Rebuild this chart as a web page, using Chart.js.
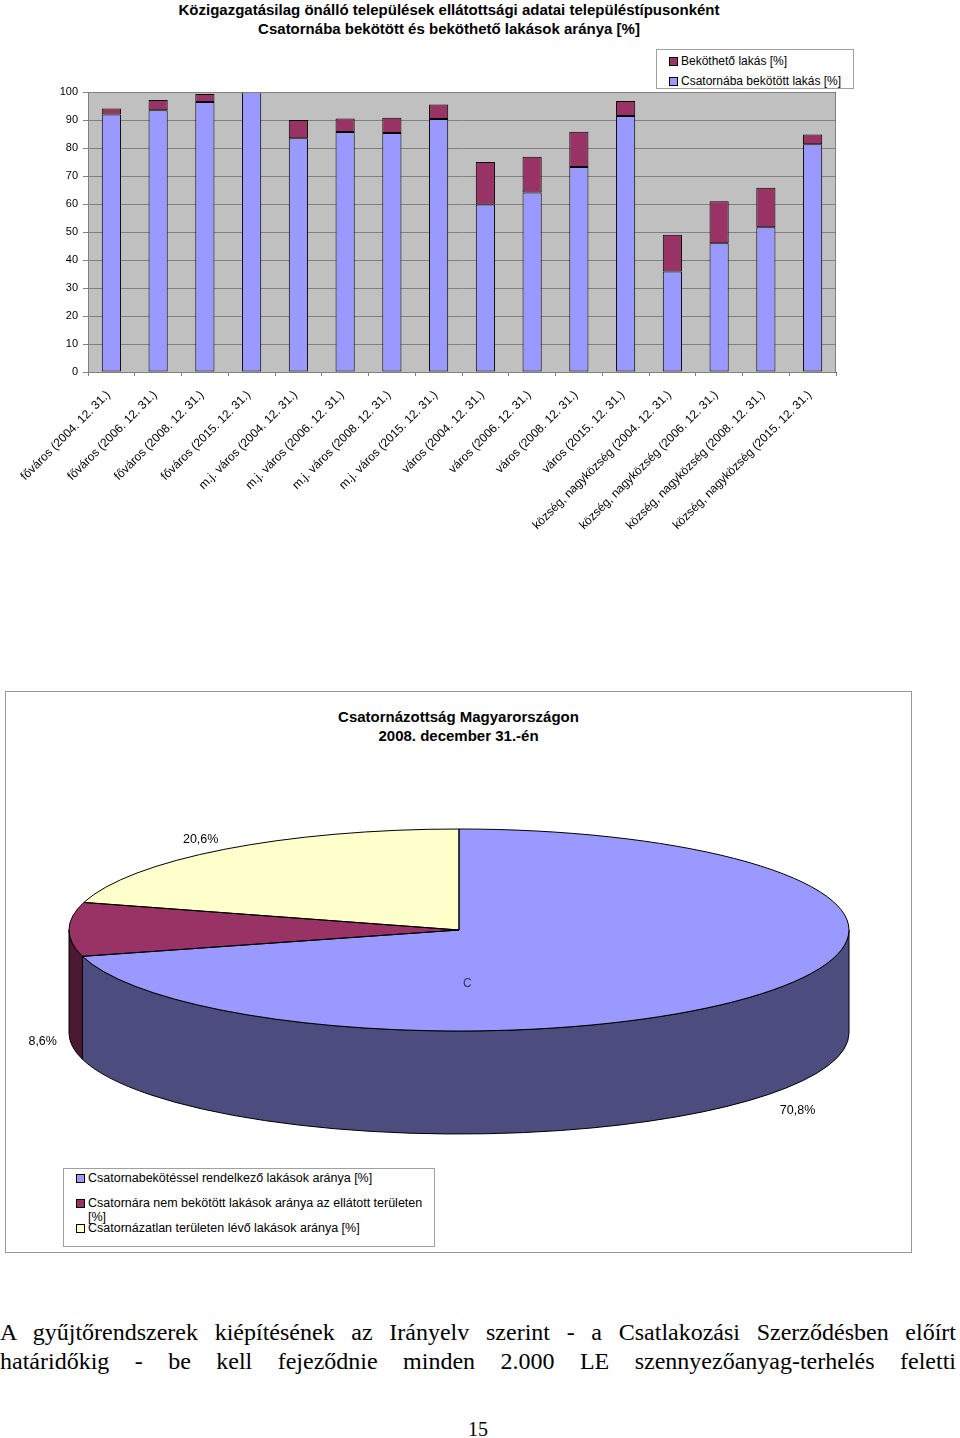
<!DOCTYPE html>
<html lang="hu">
<head>
<meta charset="utf-8">
<title>Csatornázottság</title>
<script src="https://cdn.jsdelivr.net/npm/chart.js@4.4.0/dist/chart.umd.min.js"></script>
<style>
    body { margin: 0; width: 960px; height: 1438px; position: relative; overflow: hidden; background: #fff;
           font-family: "Liberation Sans", Arial, sans-serif; color: #000; }
    .abs { position: absolute; }
    .title { left: 0; width: 898px; text-align: center; font-weight: bold; font-size: 15px; line-height: 19px; }
    .legend { border: 1px solid #a0a0a0; background: #fff; font-size: 12px; }
    .legend .item { position: absolute; left: 12px; line-height: 14px; }
    .legend .sw { position: absolute; left: 0; top: 3px; width: 7px; height: 7px; border: 1px solid #000; }
    .legend .txt { position: absolute; left: 12px; top: 0; white-space: nowrap; }
    #pieLegend { font-size: 12.5px; }
    #pieBox { left: 5px; top: 691px; width: 905px; height: 560px; border: 1px solid #999; }
    .para { left: 0; width: 956px; font-family: "Liberation Serif", "Times New Roman", serif; font-size: 24px;
            line-height: 29px; text-align: justify; text-align-last: justify; }
</style>
</head>
<body>

<div class="abs title" style="top:0">Közigazgatásilag önálló települések ellátottsági adatai településtípusonként<br>Csatornába bekötött és beköthető lakások aránya [%]</div>
<canvas id="barChart" class="abs" style="left:0;top:0" width="960" height="560"></canvas>
<div id="barLegend" class="abs legend" style="left:656px;top:49px;width:196px;height:38px"></div>

<div id="pieBox" class="abs"></div>
<div class="abs title" style="top:707px;left:5px;width:907px">Csatornázottság Magyarországon<br>2008. december 31.-én</div>
<canvas id="pieChart" class="abs" style="left:5px;top:691px" width="907" height="562"></canvas>
<div class="abs" style="left:463px;top:976px;font-size:12px;color:#333366">C</div>
<div id="pieLegend" class="abs legend" style="left:63px;top:1168px;width:370px;height:77px"></div>

<div class="abs para" style="top:1318px">A gyűjtőrendszerek kiépítésének az Irányelv szerint - a Csatlakozási Szerződésben előírt</div>
<div class="abs para" style="top:1347px">határidőkig - be kell fejeződnie minden 2.000 LE szennyezőanyag-terhelés feletti</div>
<div class="abs" style="left:0;width:956px;top:1418px;text-align:center;font-family:'Liberation Serif',serif;font-size:20px">15</div>

<script>
const categories = [
    'főváros (2004. 12. 31.)', 'főváros (2006. 12. 31.)', 'főváros (2008. 12. 31.)', 'főváros (2015. 12. 31.)',
    'm.j. város (2004. 12. 31.)', 'm.j. város (2006. 12. 31.)', 'm.j. város (2008. 12. 31.)', 'm.j. város (2015. 12. 31.)',
    'város (2004. 12. 31.)', 'város (2006. 12. 31.)', 'város (2008. 12. 31.)', 'város (2015. 12. 31.)',
    'község, nagyközség (2004. 12. 31.)', 'község, nagyközség (2006. 12. 31.)',
    'község, nagyközség (2008. 12. 31.)', 'község, nagyközség (2015. 12. 31.)'
];
const connected = [92.0, 93.5, 96.4, 100, 83.5, 85.7, 85.4, 90.4, 59.8, 64.1, 73.2, 91.4, 35.9, 46.0, 51.7, 81.3];
const connectable = [2.1, 3.6, 2.9, 0, 6.5, 4.8, 5.4, 5.1, 15.2, 12.8, 12.6, 5.4, 13.1, 15.0, 14.1, 3.5];
const yTicks = [0, 10, 20, 30, 40, 50, 60, 70, 80, 90, 100];

const pieLabels = [
    'Csatornabekötéssel rendelkező lakások aránya [%]',
    'Csatornára nem bekötött lakások aránya az ellátott területen [%]',
    'Csatornázatlan területen lévő lakások aránya [%]'
];
const pieValues = [70.8, 8.6, 20.6];

const BLUE = '#9999ff', PLUM = '#993366', CREAM = '#ffffcc';

Chart.defaults.font.family = '"Liberation Sans", Arial, sans-serif';
Chart.defaults.color = '#000';

// html legend box
function fillLegend(el, items, top0, step, textWidth) {
    el.innerHTML = items.map((it, i) => `
        <div class="item" style="top:${top0 + i * step}px">
            <span class="sw" style="background:${it.color}"></span>
            <span class="txt" style="${textWidth ? 'white-space:normal;width:' + textWidth + 'px' : ''}">${it.label}</span>
        </div>`).join('');
}

// halve the rgb of a hex colour for the pie walls
function darken(hex) {
    const n = parseInt(hex.slice(1), 16);
    const r = (n >> 16) >> 1, g = ((n >> 8) & 255) >> 1, b = (n & 255) >> 1;
    return `rgb(${r},${g},${b})`;
}

const plotBg = {
    id: 'plotBg',
    beforeDraw(chart) {
        const { ctx, chartArea: a } = chart;
        ctx.save();
        ctx.fillStyle = '#c0c0c0';
        ctx.fillRect(a.left, a.top, a.width, a.height);
        ctx.restore();
    },
    afterDraw(chart) {
        const { ctx, chartArea: a } = chart;
        ctx.save();
        ctx.strokeStyle = '#808080';
        ctx.lineWidth = 1;
        ctx.strokeRect(a.left + 0.5, a.top + 0.5, a.width - 1, a.height);
        ctx.restore();
    }
};

// flat pie squashed into an ellipse, with a front wall
const pie3d = {
    id: 'pie3d',
    beforeDatasetsDraw(chart, args, o) {
        const ctx = chart.ctx;
        const arcs = chart.getDatasetMeta(0).data;
        arcs.forEach(arc => {
            [[0, Math.PI], [2 * Math.PI, 3 * Math.PI]].forEach(([lo, hi]) => {
                const a = Math.max(arc.startAngle, lo), b = Math.min(arc.endAngle, hi);
                if (b <= a) return;
                ctx.beginPath();
                ctx.ellipse(o.cx, o.cy, o.rx, o.ry, 0, a, b);
                ctx.ellipse(o.cx, o.cy + o.depth, o.rx, o.ry, 0, b, a, true);
                ctx.closePath();
                ctx.fillStyle = darken(arc.options.backgroundColor);
                ctx.fill();
                ctx.strokeStyle = '#000';
                ctx.lineWidth = 1;
                ctx.stroke();
            });
        });
        const { x, y, outerRadius } = arcs[0];
        ctx.save();
        ctx.translate(o.cx, o.cy);
        ctx.scale(o.rx / outerRadius, o.ry / outerRadius);
        ctx.translate(-x, -y);
    },
    afterDatasetsDraw(chart, args, o) {
        const ctx = chart.ctx;
        ctx.restore();
        const arcs = chart.getDatasetMeta(0).data;
        const values = chart.data.datasets[0].data;
        ctx.save();
        ctx.strokeStyle = '#000';
        ctx.lineWidth = 1;
        arcs.forEach(arc => {
            ctx.beginPath();
            ctx.moveTo(o.cx, o.cy);
            ctx.ellipse(o.cx, o.cy, o.rx, o.ry, 0, arc.startAngle, arc.endAngle);
            ctx.closePath();
            ctx.stroke();
        });
        // percentage labels
        ctx.font = '12.5px "Liberation Sans", Arial, sans-serif';
        ctx.fillStyle = '#000';
        ctx.textAlign = 'center';
        ctx.textBaseline = 'middle';
        arcs.forEach((arc, i) => {
            const mid = (arc.startAngle + arc.endAngle) / 2;
            const txt = values[i].toFixed(1).replace('.', ',') + '%';
            const w = ctx.measureText(txt).width;
            const c = Math.cos(mid), s = Math.sin(mid);
            const px = o.cx + (o.rx + 12 + 11 * Math.abs(s)) * c + c * w / 2;
            let py = o.cy + (o.ry + 12) * s;
            if (s > -0.1) py += o.depth + 9;
            ctx.fillText(txt, px, py);
        });
        ctx.restore();
    }
};

document.addEventListener('DOMContentLoaded', function() {
    fillLegend(document.getElementById('barLegend'), [
        { label: 'Beköthető lakás [%]', color: PLUM },
        { label: 'Csatornába bekötött lakás [%]', color: BLUE }
    ], 4, 20);

    fillLegend(document.getElementById('pieLegend'), pieLabels.map((l, i) => ({
        label: l, color: [BLUE, PLUM, CREAM][i]
    })), 2, 25, 338);

    new Chart(document.getElementById('barChart').getContext('2d'), {
        type : 'bar',
        data : {
            labels : categories,
            datasets : [ {
                label : 'Csatornába bekötött lakás [%]',
                data : connected,
                backgroundColor : BLUE
            }, {
                label : 'Beköthető lakás [%]',
                data : connectable,
                backgroundColor : PLUM
            } ]
        },
        options : {
            responsive : false,
            animation : false,
            events : [],
            layout : { padding : { top : 92, right : 124, left : 0, bottom : 0 } },
            datasets : {
                bar : {
                    borderColor : '#000',
                    borderWidth : 1,
                    borderSkipped : false,
                    categoryPercentage : 1,
                    barPercentage : 0.41
                }
            },
            plugins : {
                legend : { display : false },
                tooltip : { enabled : false }
            },
            scales : {
                x : {
                    stacked : true,
                    offset : true,
                    afterFit : axis => { axis.height = 188; },
                    grid : { offset : true, drawOnChartArea : false, color : '#808080', tickLength : 4 },
                    border : { color : '#404040' },
                    ticks : {
                        autoSkip : false,
                        minRotation : 45,
                        maxRotation : 45,
                        padding : 12,
                        labelOffset : -3,
                        font : { size : 12 }
                    }
                },
                y : {
                    stacked : true,
                    min : 0,
                    max : 100,
                    afterBuildTicks : axis => { axis.ticks = yTicks.map(v => ({ value : v })); },
                    afterFit : axis => { axis.width = 88; },
                    grid : { color : '#808080', tickLength : 5 },
                    border : { color : '#808080' },
                    ticks : { padding : 5, font : { size : 11 } }
                }
            }
        },
        plugins : [ plotBg ]
    });

    new Chart(document.getElementById('pieChart').getContext('2d'), {
        type : 'pie',
        data : {
            labels : pieLabels,
            datasets : [ {
                data : pieValues,
                backgroundColor : [ BLUE, PLUM, CREAM ],
                borderWidth : 0,
                hoverOffset : 0
            } ]
        },
        options : {
            responsive : false,
            animation : false,
            events : [],
            plugins : {
                legend : { display : false },
                tooltip : { enabled : false },
                pie3d : { cx : 454, cy : 239, rx : 390, ry : 101, depth : 103 }
            }
        },
        plugins : [ pie3d ]
    });
});
</script>
</body>
</html>
